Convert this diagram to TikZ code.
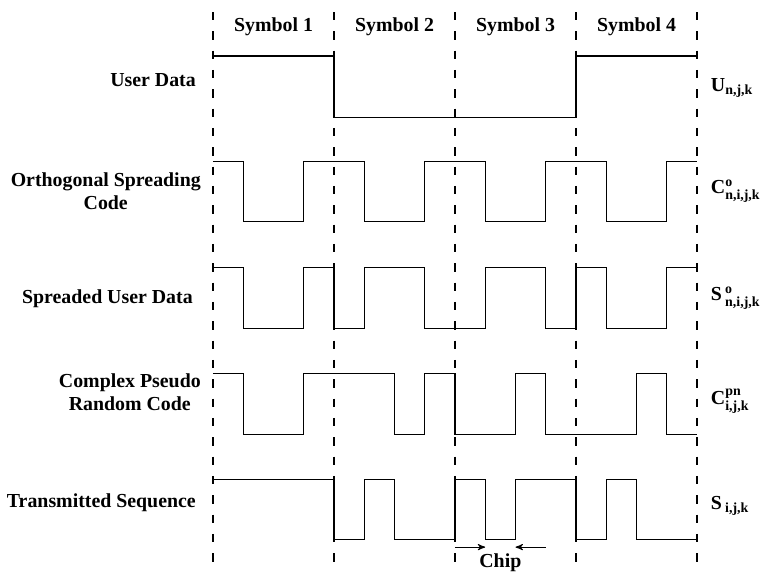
\documentclass[tikz,border=0pt]{standalone}
\usepackage{amsmath}
\usepackage{fontspec}
\setmainfont{Liberation Serif}
\usepackage{tikz}
\usetikzlibrary{arrows}

\begin{document}
\begin{tikzpicture}[x=0.605cm,y=-0.02cm,
      font=\fontsize{11.3}{13}\selectfont\bfseries,
      wave/.style={line width=0.6pt},
      symline/.style={line width=0.6pt,dash pattern=on 4.8pt off 6.2pt},
      rowname/.style={anchor=east,align=center},
      sig/.style={anchor=west,inner sep=0pt},
      chip/.style={->,>=stealth',line width=0.6pt}]
      \useasboundingbox (-7.041,0) rectangle (18.083,572);

      % symbol boundaries, four chips each
      \foreach \s in {0,4,8,12,16}
        \draw[symline] (\s,12) -- (\s,572);
      \node (s1) at ( 2, 27) { Symbol 1 };
      \node (s2) at ( 6, 27) { Symbol 2 };
      \node (s3) at (10, 27) { Symbol 3 };
      \node (s4) at (14, 27) { Symbol 4 };

      % row names
      \node[rowname] (ud) at (-0.2, 80) { User Data };
      \node[rowname] (oc) at (-0.2,191) { Orthogonal Spreading\\Code };
      \node[rowname] (su) at (-0.3,299) { Spreaded User Data };
      \node[rowname] (pn) at (-0.2,392) { Complex Pseudo\\Random Code };
      \node[rowname] (tx) at (-0.2,503) { Transmitted Sequence };

      % signal names
      \node[sig] (U)  at (16.45, 88) { $\textbf{U}_{\textbf{n,j,k}}$ };
      \node[sig] (Co) at (16.45,191) { $\textbf{C}^{\textbf{o}}_{\textbf{n,i,j,k}}$ };
      \node[sig] (So) at (16.45,298) { $\textbf{S}\,{}^{\textbf{o}}_{\textbf{n,i,j,k}}$ };
      \node[sig] (Cp) at (16.45,401) { $\textbf{C}^{\textbf{pn}}_{\textbf{i,j,k}}$ };
      \node[sig] (S)  at (16.45,506) { $\textbf{S}\,{}_{\textbf{i,j,k}}$ };

      % waveforms
      \draw[wave] (0,56) -| (4,117) -| (12,56) -- (16,56);
      \draw[wave] (0,161) -| (1,221) -| (3,161) -| (5,221) -| (7,161)
        -| (9,221) -| (11,161) -| (13,221) -| (15,161) -- (16,161);
      \draw[wave] (0,267) -| (1,328) -| (3,267) -| (4,328) -| (5,267)
        -| (7,328) -| (9,267) -| (11,328) -| (12,267) -| (13,328)
        -| (15,267) -- (16,267);
      \draw[wave] (0,373) -| (1,434) -| (3,373) -| (6,434) -| (7,373)
        -| (8,434) -| (10,373) -| (11,434) -| (14,373) -| (15,434)
        -- (16,434);
      \draw[wave] (0,479) -| (4,539) -| (5,479) -| (6,539) -| (8,479)
        -| (9,539) -| (10,479) -| (12,539) -| (13,479) -| (14,539)
        -- (16,539);

      % chip width
      \coordinate (a) at ( 8,547);
      \coordinate (b) at ( 9,547);
      \coordinate (c) at (11,547);
      \coordinate (d) at (10,547);
      \node (chipname) at (9.5,563) { Chip };
      \path
      (a) edge[chip] (b)
      (c) edge[chip] (d)
      ;
\end{tikzpicture}
\end{document}
